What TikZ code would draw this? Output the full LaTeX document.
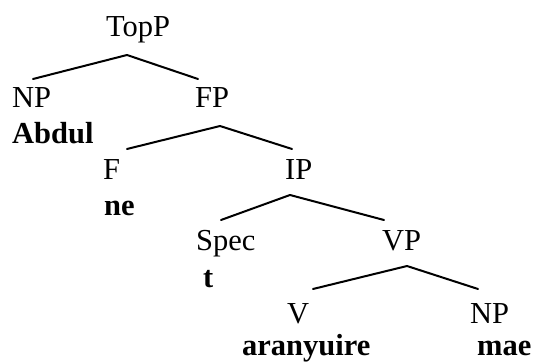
\documentclass[tikz,border=0pt]{standalone}
\usepackage{fontspec}
\setmainfont{Liberation Serif}
\begin{document}
\begin{tikzpicture}[x=1pt,y=-1pt,
  lbl/.style={anchor=base west,inner sep=0pt,font=\fontsize{30.5}{36}\selectfont},
  wrd/.style={lbl,font=\fontsize{30.5}{36}\selectfont\bfseries},
  branch/.style={line width=2pt,line cap=round,line join=round}]
\useasboundingbox (0,0) rectangle (540,363);
\node[lbl] (topp) at (106,37) {TopP};
\node[lbl] (np1) at (12,108) {NP};
\node[lbl] (fp) at (195,108) {FP};
\node[wrd] (abdul) at (12,144) {Abdul};
\node[lbl] (f) at (103,180) {F};
\node[lbl] (ip) at (285,180) {IP};
\node[wrd] (ne) at (104,215) {ne};
\node[lbl] (spec) at (196,251) {Spec};
\node[lbl] (vp) at (382,251) {VP};
\node[wrd] (t) at (203,287) {t};
\node[lbl] (v) at (287,323) {V};
\node[lbl] (np2) at (470,323) {NP};
\node[wrd] (aranyuire) at (242,355) {aranyuire};
\node[wrd] (mae) at (477,355) {mae};
% branch points
\coordinate (toppA) at (127,55);
\coordinate (toppL) at (33,79);
\coordinate (toppR) at (198,79);
\coordinate (fpA) at (220,126);
\coordinate (fpL) at (127,149);
\coordinate (fpR) at (292,149);
\coordinate (ipA) at (290,195);
\coordinate (ipL) at (221,220);
\coordinate (ipR) at (384,220);
\coordinate (vpA) at (407,266);
\coordinate (vpL) at (313,289);
\coordinate (vpR) at (478,289);
\draw[branch] (toppL) -- (toppA) -- (toppR);
\draw[branch] (fpL) -- (fpA) -- (fpR);
\draw[branch] (ipL) -- (ipA) -- (ipR);
\draw[branch] (vpL) -- (vpA) -- (vpR);
\end{tikzpicture}
\end{document}
